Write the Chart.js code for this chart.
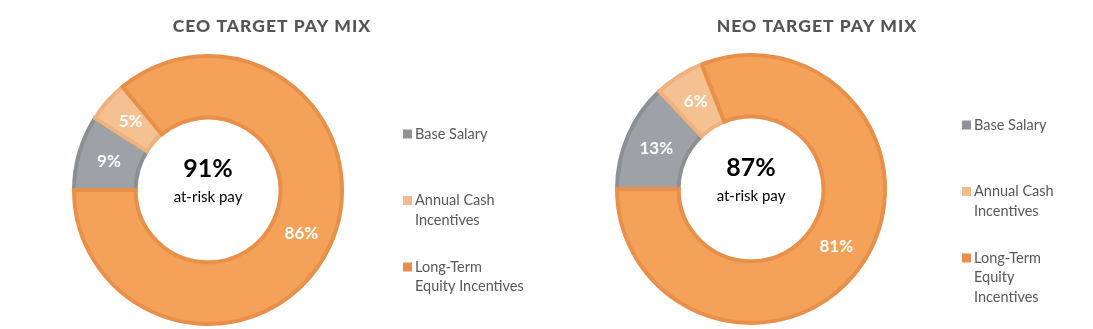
<!DOCTYPE html>
<html>
<head>
<meta charset="utf-8">
<script src="https://cdn.jsdelivr.net/npm/chart.js@4.4.0/dist/chart.umd.min.js"></script>
<style>
  html, body { margin: 0; padding: 0; background: #fff; }
  #wrap { position: relative; width: 1093px; height: 329px; }
  .box { position: absolute; top: 0; height: 329px; }
</style>
</head>
<body>
<div id="wrap">
  <div class="box" style="left:0;width:546px"><canvas id="ceoChart"></canvas></div>
  <div class="box" style="left:546px;width:547px"><canvas id="neoChart"></canvas></div>
</div>
<script>
// datos del gráfico
const categorias = ["Base Salary", "Annual Cash Incentives", "Long-Term Equity Incentives"];
const valoresCEO = [9, 5, 86];
const valoresNEO = [13, 6, 81];
const titulos = ["CEO TARGET PAY MIX", "NEO TARGET PAY MIX"];
const enRiesgo = ["91%", "87%"];
const textoCentro = "at-risk pay";
// como se parten las etiquetas de la leyenda en cada gráfico
const leyendaCEO = [["Base Salary"], ["Annual Cash", "Incentives"], ["Long-Term", "Equity Incentives"]];
const leyendaNEO = [["Base Salary"], ["Annual Cash", "Incentives"], ["Long-Term", "Equity", "Incentives"]];

const colores = ["#9EA1A5", "#F6C190", "#F4A259"];
const bordes = ["#8C8F93", "#EEB27E", "#E8904A"];
const coloresLeyenda = ["#8E9195", "#F2BB8C", "#E98E48"];
const fuente = "Lato, 'Open Sans', sans-serif";

// plugin que dibuja título, texto central, porcentajes y leyenda
const extras = (titulo, centro, lineas, cfg) => ({
  id: "extras",
  afterDatasetsDraw(chart) {
    const ctx = chart.ctx;
    const meta = chart.getDatasetMeta(0);
    const area = chart.chartArea;
    const cx = (area.left + area.right) / 2;
    const cy = (area.top + area.bottom) / 2;
    ctx.save();
    ctx.textAlign = "center";
    ctx.textBaseline = "middle";

    // porcentajes en cada porción
    ctx.fillStyle = "#ffffff";
    ctx.font = "bold 17px " + fuente;
    meta.data.forEach((arc, i) => {
      const p = arc.tooltipPosition();
      ctx.fillText(chart.data.datasets[0].data[i] + "%", p.x, p.y);
    });

    // texto central
    ctx.fillStyle = "#000000";
    ctx.font = "bold 25px " + fuente;
    ctx.fillText(centro, cx, cy - 21);
    ctx.font = "15px " + fuente;
    ctx.fillText(textoCentro, cx, cy + 7);

    // título
    ctx.fillStyle = "#555555";
    ctx.font = "900 17.5px " + fuente;
    ctx.letterSpacing = "1px";
    ctx.fillText(titulo, cfg.tituloX, 26);
    ctx.letterSpacing = "0px";

    // leyenda
    ctx.textAlign = "left";
    ctx.font = "14.5px " + fuente;
    lineas.forEach((ls, i) => {
      const y0 = cfg.leyendaY + i * 66.5;
      ctx.fillStyle = coloresLeyenda[i];
      ctx.fillRect(cfg.leyendaX, y0 - 4.5, 9, 9);
      ctx.fillStyle = "#595959";
      ls.forEach((t, j) => ctx.fillText(t, cfg.leyendaX + 12, y0 + j * 19.5));
    });
    ctx.restore();
  },
});

const crearDona = (id, valores, idx, lineas, padding, cfg) => {
  const ctx = document.getElementById(id).getContext("2d");
  new Chart(ctx, {
    type: "doughnut",
    data: {
      labels: categorias,
      datasets: [{
        data: valores,
        backgroundColor: colores,
        borderColor: bordes,
        borderWidth: 4,
        borderJoinStyle: "miter",
      }],
    },
    options: {
      responsive: true,
      maintainAspectRatio: false,
      animation: false,
      rotation: 270,
      cutout: "54%",
      layout: { padding },
      plugins: {
        legend: { display: false },
        tooltip: { enabled: false },
      },
    },
    plugins: [extras(titulos[idx], enRiesgo[idx], lineas, cfg)],
  });
};

crearDona("ceoChart", valoresCEO, 0, leyendaCEO,
  { left: 72, right: 202, top: 54, bottom: 3 },
  { tituloX: 272, leyendaX: 403, leyendaY: 134 });
crearDona("neoChart", valoresNEO, 1, leyendaNEO,
  { left: 69, right: 206, top: 53, bottom: 4 },
  { tituloX: 271, leyendaX: 416, leyendaY: 125 });
</script>
</body>
</html>
